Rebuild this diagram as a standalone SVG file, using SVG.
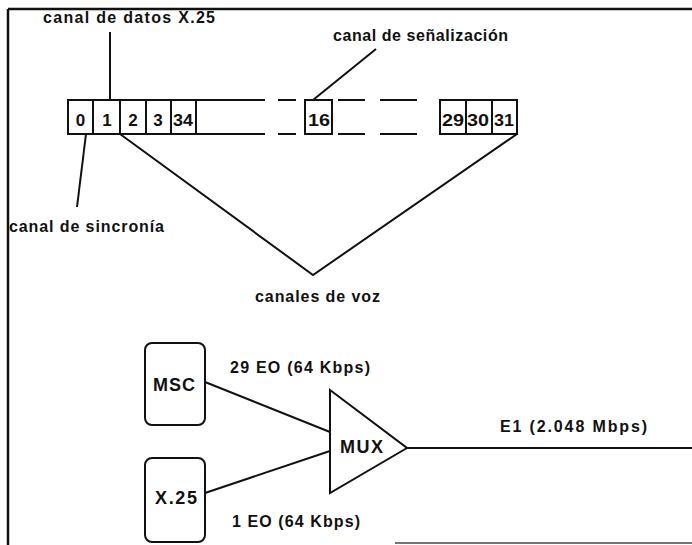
<svg xmlns="http://www.w3.org/2000/svg" width="692" height="545" viewBox="0 0 692 545">
<style>
  text { font-family: "Liberation Sans", Arial, sans-serif; font-weight: bold; fill: #111; }
  .lbl { font-size: 16px; }
  .big { font-size: 18px; }
  .num { font-size: 17px; }
  .ln { stroke: #111; stroke-width: 2; fill: none; }
  .box { stroke: #111; stroke-width: 2; fill: #fff; }
  .frame { stroke: #111; stroke-width: 2.5; fill: none; }
</style>
<rect width="692" height="545" fill="#fff"/>
<g id="frame">
  <line class="frame" x1="8" y1="9" x2="692" y2="9"/>
  <line class="frame" x1="8" y1="9" x2="8" y2="545"/>
  <line x1="395" y1="543" x2="692" y2="543" stroke="#777" stroke-width="2"/>
</g>
<g id="frame-row">
  <rect class="box" x="68" y="100" width="25" height="34"/>
  <rect class="box" x="93" y="100" width="27" height="34"/>
  <rect class="box" x="120" y="100" width="26" height="34"/>
  <rect class="box" x="146" y="100" width="25" height="34"/>
  <rect class="box" x="171" y="100" width="25" height="34"/>
  <rect class="box" x="305" y="100" width="27" height="34"/>
  <rect class="box" x="440" y="100" width="26" height="34"/>
  <rect class="box" x="466" y="100" width="26" height="34"/>
  <rect class="box" x="492" y="100" width="25" height="34"/>
  <path class="ln" d="M196 100H265M278 100H296M338 100H365M380 100H417M196 134H265M278 134H296M338 134H365M380 134H417"/>
  <text class="num" x="80.5" y="126" text-anchor="middle">0</text>
  <text class="num" x="107" y="126" text-anchor="middle">1</text>
  <text class="num" x="133" y="126" text-anchor="middle">2</text>
  <text class="num" x="158" y="126" text-anchor="middle">3</text>
  <text class="num" x="173" y="126" textLength="20" lengthAdjust="spacingAndGlyphs">34</text>
  <text class="num" x="308" y="126" textLength="22" lengthAdjust="spacingAndGlyphs">16</text>
  <text class="num" x="442" y="126" textLength="22" lengthAdjust="spacingAndGlyphs">29</text>
  <text class="num" x="467" y="126" textLength="22" lengthAdjust="spacingAndGlyphs">30</text>
  <text class="num" x="494" y="126" textLength="20" lengthAdjust="spacingAndGlyphs">31</text>
</g>
<g id="connectors">
  <line class="ln" x1="110" y1="32" x2="110" y2="100"/>
  <line class="ln" x1="313" y1="100" x2="376" y2="49"/>
  <line class="ln" x1="86" y1="134" x2="77" y2="207"/>
  <polyline class="ln" points="120,134 313,275 517,134"/>
  <line class="ln" x1="205" y1="382" x2="330" y2="432"/>
  <line class="ln" x1="205" y1="493" x2="330" y2="451"/>
  <line class="ln" x1="407" y1="448" x2="692" y2="448"/>
</g>
<g id="labels">
  <text class="lbl" x="43" y="23" textLength="172" lengthAdjust="spacing">canal de datos X.25</text>
  <text class="lbl" x="333" y="41" textLength="175" lengthAdjust="spacing">canal de señalización</text>
  <text class="lbl" x="9" y="232" textLength="155" lengthAdjust="spacing">canal de sincronía</text>
  <text class="lbl" x="255" y="302" textLength="125" lengthAdjust="spacing">canales de voz</text>
  <text class="lbl" x="230" y="373" textLength="140" lengthAdjust="spacing">29 EO (64 Kbps)</text>
  <text class="lbl" x="232" y="527" textLength="128" lengthAdjust="spacing">1 EO (64 Kbps)</text>
  <text class="lbl" x="500" y="432" textLength="147" lengthAdjust="spacing">E1 (2.048 Mbps)</text>
</g>
<g id="msc">
  <rect class="box" x="145" y="343" width="60" height="82" rx="7"/>
  <text class="big" x="153" y="391" textLength="42" lengthAdjust="spacing">MSC</text>
</g>
<g id="x25">
  <rect class="box" x="145" y="458" width="60" height="84" rx="7"/>
  <text class="big" x="155" y="504" textLength="42" lengthAdjust="spacing">X.25</text>
</g>
<g id="mux">
  <polygon class="box" points="330,390 407,448 330,493"/>
  <text class="big" x="340" y="453" textLength="43" lengthAdjust="spacing">MUX</text>
</g>
</svg>
